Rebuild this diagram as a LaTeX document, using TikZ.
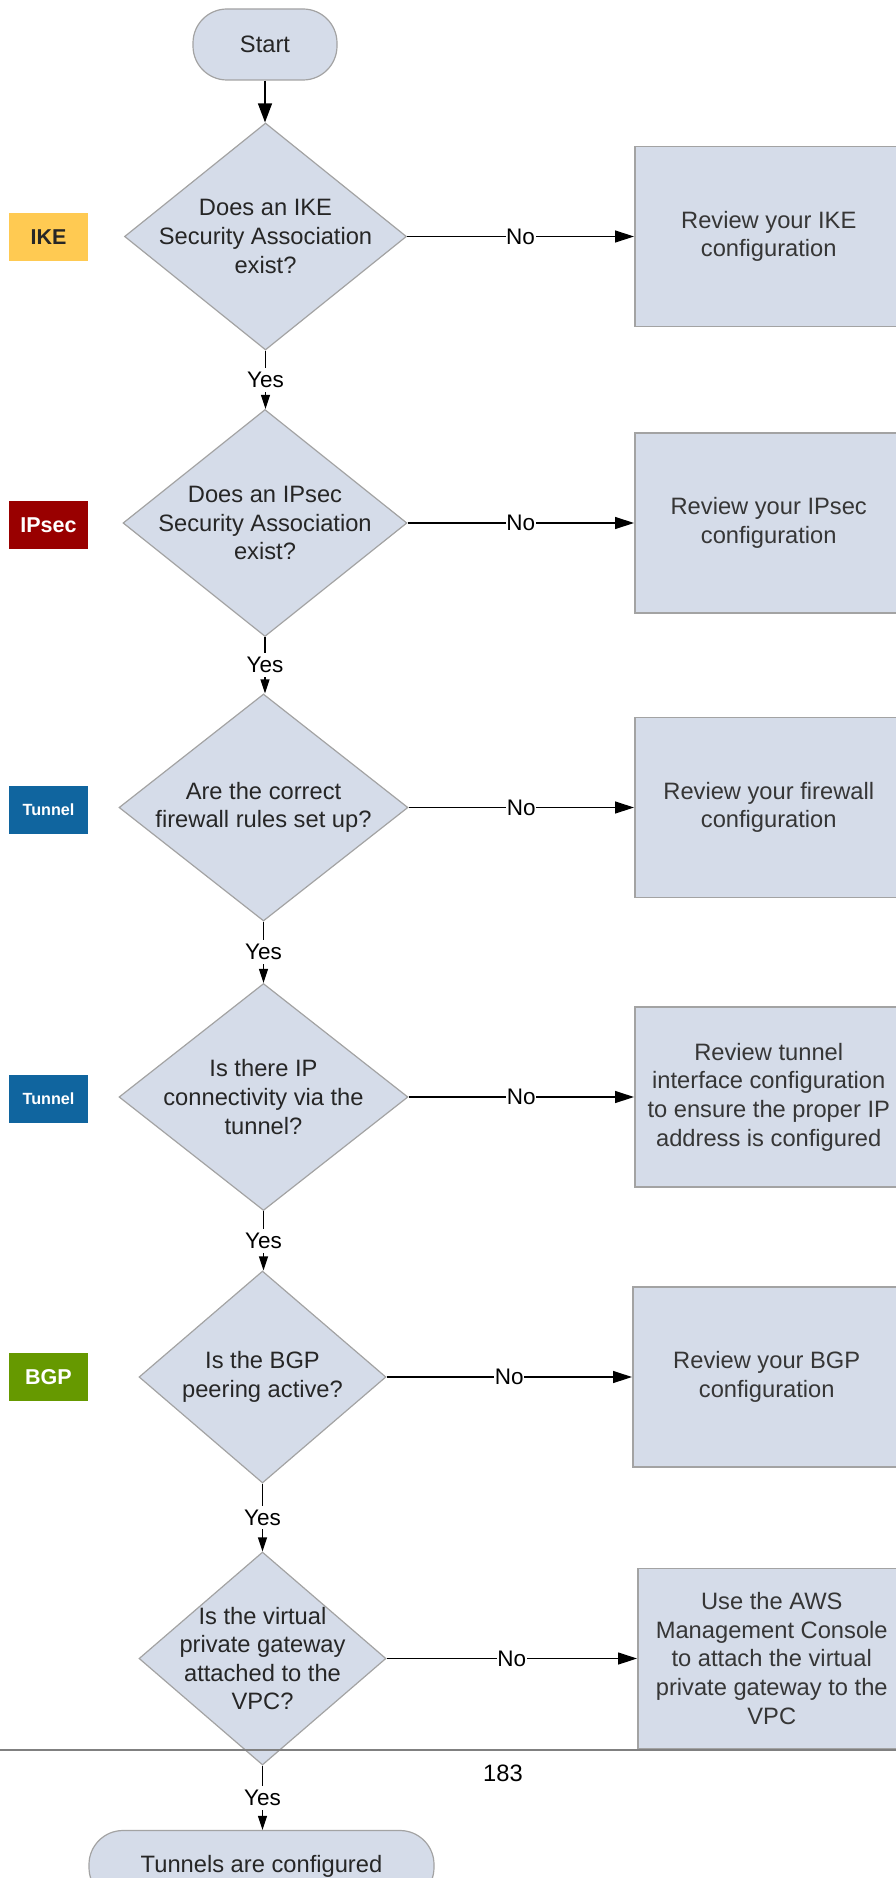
\documentclass[tikz,border=0pt]{standalone}
\usepackage{fontspec}
\setmainfont{Liberation Sans}
\usetikzlibrary{arrows.meta,shapes.geometric}
\definecolor{flowfill}{HTML}{D5DCE9}
\definecolor{flowedge}{HTML}{A3A3A3}
\definecolor{flowtext}{HTML}{262626}
\definecolor{boxtext}{HTML}{363636}
\definecolor{tagike}{HTML}{FFCA52}
\definecolor{tagipsec}{HTML}{990000}
\definecolor{tagtunnel}{HTML}{10659F}
\definecolor{tagbgp}{HTML}{669900}
\definecolor{pagerule}{HTML}{808080}
\newcommand{\flowfont}{\fontsize{23.7}{28.6}\selectfont}
\newcommand{\edgefont}{\fontsize{22.5}{27}\selectfont}
\newcommand{\tagfont}{\fontsize{21.5}{24}\selectfont\bfseries}

\tikzset{
  terminal/.style={rectangle, rounded corners=34pt, draw=flowedge, fill=flowfill,
    line width=1.2pt, minimum height=71pt, align=center, text=flowtext},
  decision/.style={diamond, draw=flowedge, fill=flowfill, line width=1.2pt,
    inner sep=0pt, minimum height=227pt},
  qtext/.style={align=center, text=flowtext, inner sep=0pt},
  action/.style={rectangle, draw=flowedge, fill=flowfill, line width=1.5pt,
    anchor=west, minimum width=268pt, minimum height=180pt, align=center,
    text=boxtext, inner sep=0pt},
  tag/.style={rectangle, minimum width=79pt, minimum height=48pt, inner sep=0pt,
    font=\tagfont, text=white},
  answer/.style={fill=white, inner xsep=0.6pt, inner ysep=4pt, font=\edgefont},
  yesflow/.style={-{Triangle[length=14pt, width=9pt]}, line width=1.3pt},
  noflow/.style={-{Triangle[length=19pt, width=12pt]}, line width=1.3pt},
}

\begin{document}
\begin{tikzpicture}[x=1pt, y=-1pt, font=\flowfont]
  \def\bx{634}   % left edge of the fix-it boxes
  \def\tx{48.5}  % x of the layer tags

  \useasboundingbox (0,0) rectangle (896,1878);
  \clip (0,0) rectangle (896,1878);

  % main column
  \node[terminal, minimum width=144pt] (start) at (265,44.5) {Start};
  \node[decision, minimum width=282pt,
    label={[qtext]center:{Does an IKE\\Security Association\\exist?}}]
    (ike) at (265.5,236.5) {};
  \node[decision, minimum width=284pt,
    label={[qtext]center:{Does an IPsec\\Security Association\\exist?}}]
    (ipsec) at (265,523) {};
  \node[decision, minimum width=289pt,
    label={[qtext]center:{Are the correct\\firewall rules set up?}}]
    (fw) at (263.5,807.5) {};
  \node[decision, minimum width=289pt,
    label={[qtext]center:{Is there IP\\connectivity via the\\tunnel?}}]
    (ipconn) at (263.5,1097) {};
  \node[decision, minimum width=247pt, minimum height=212pt,
    label={[qtext]center:{Is the BGP\\peering active?}}]
    (bgp) at (262.5,1377) {};
  \node[decision, minimum width=247pt, minimum height=213pt,
    label={[qtext]center:{Is the virtual\\private gateway\\attached to the\\VPC?}}]
    (vgw) at (262.5,1658.5) {};
  \node[terminal, minimum width=345pt] (done) at (261.5,1866) {Tunnels are configured};

  % fix-it boxes
  \node[action] (ikefix)    at (\bx,236.5) {Review your IKE\\configuration};
  \node[action] (ipsecfix)  at (\bx,523)   {Review your IPsec\\configuration};
  \node[action] (fwfix)     at (\bx,807.5) {Review your firewall\\configuration};
  \node[action] (ipconnfix) at (\bx,1097)
    {Review tunnel\\interface configuration\\to ensure the proper IP\\address is configured};
  \node[action] (bgpfix)    at (632,1377)  {Review your BGP\\configuration};
  \node[action] (vgwfix)    at (637,1658.5)
    {Use the AWS\\Management Console\\to attach the virtual\\private gateway to the\\VPC};

  % layer tags
  \node[tag, fill=tagike, text=flowtext] (tike) at (\tx,237) {IKE};
  \node[tag, fill=tagipsec] (tipsec) at (\tx,525) {IPsec};
  \node[tag, fill=tagtunnel, font=\fontsize{16.2}{18}\selectfont\bfseries] (ttunnela) at (\tx,810) {Tunnel};
  \node[tag, fill=tagtunnel, font=\fontsize{16.2}{18}\selectfont\bfseries] (ttunnelb) at (\tx,1099) {Tunnel};
  \node[tag, fill=tagbgp] (tbgp) at (\tx,1377) {BGP};

  % connectors
  \draw[-{Triangle[length=19pt, width=14pt]}, line width=1.3pt] (start) -- (start |- ike.north);
  \foreach \a/\b in {ike/ipsec, ipsec/fw, fw/ipconn, ipconn/bgp, bgp/vgw, vgw/done}
    \draw[yesflow] (\a.south) -- node[answer] {Yes} (\a.south |- \b.north);
  \foreach \q/\f in {ike/ikefix, ipsec/ipsecfix, fw/fwfix, ipconn/ipconnfix, bgp/bgpfix, vgw/vgwfix}
    \draw[noflow] (\q.east) -- node[answer] {No} (\q.east -| \f.west);

  % page break of the source document
  \draw[pagerule, line width=2.2pt] (0,1750) -- (896,1750);
  \node (pagenum) at (503,1773.5) {183};
\end{tikzpicture}
\end{document}
